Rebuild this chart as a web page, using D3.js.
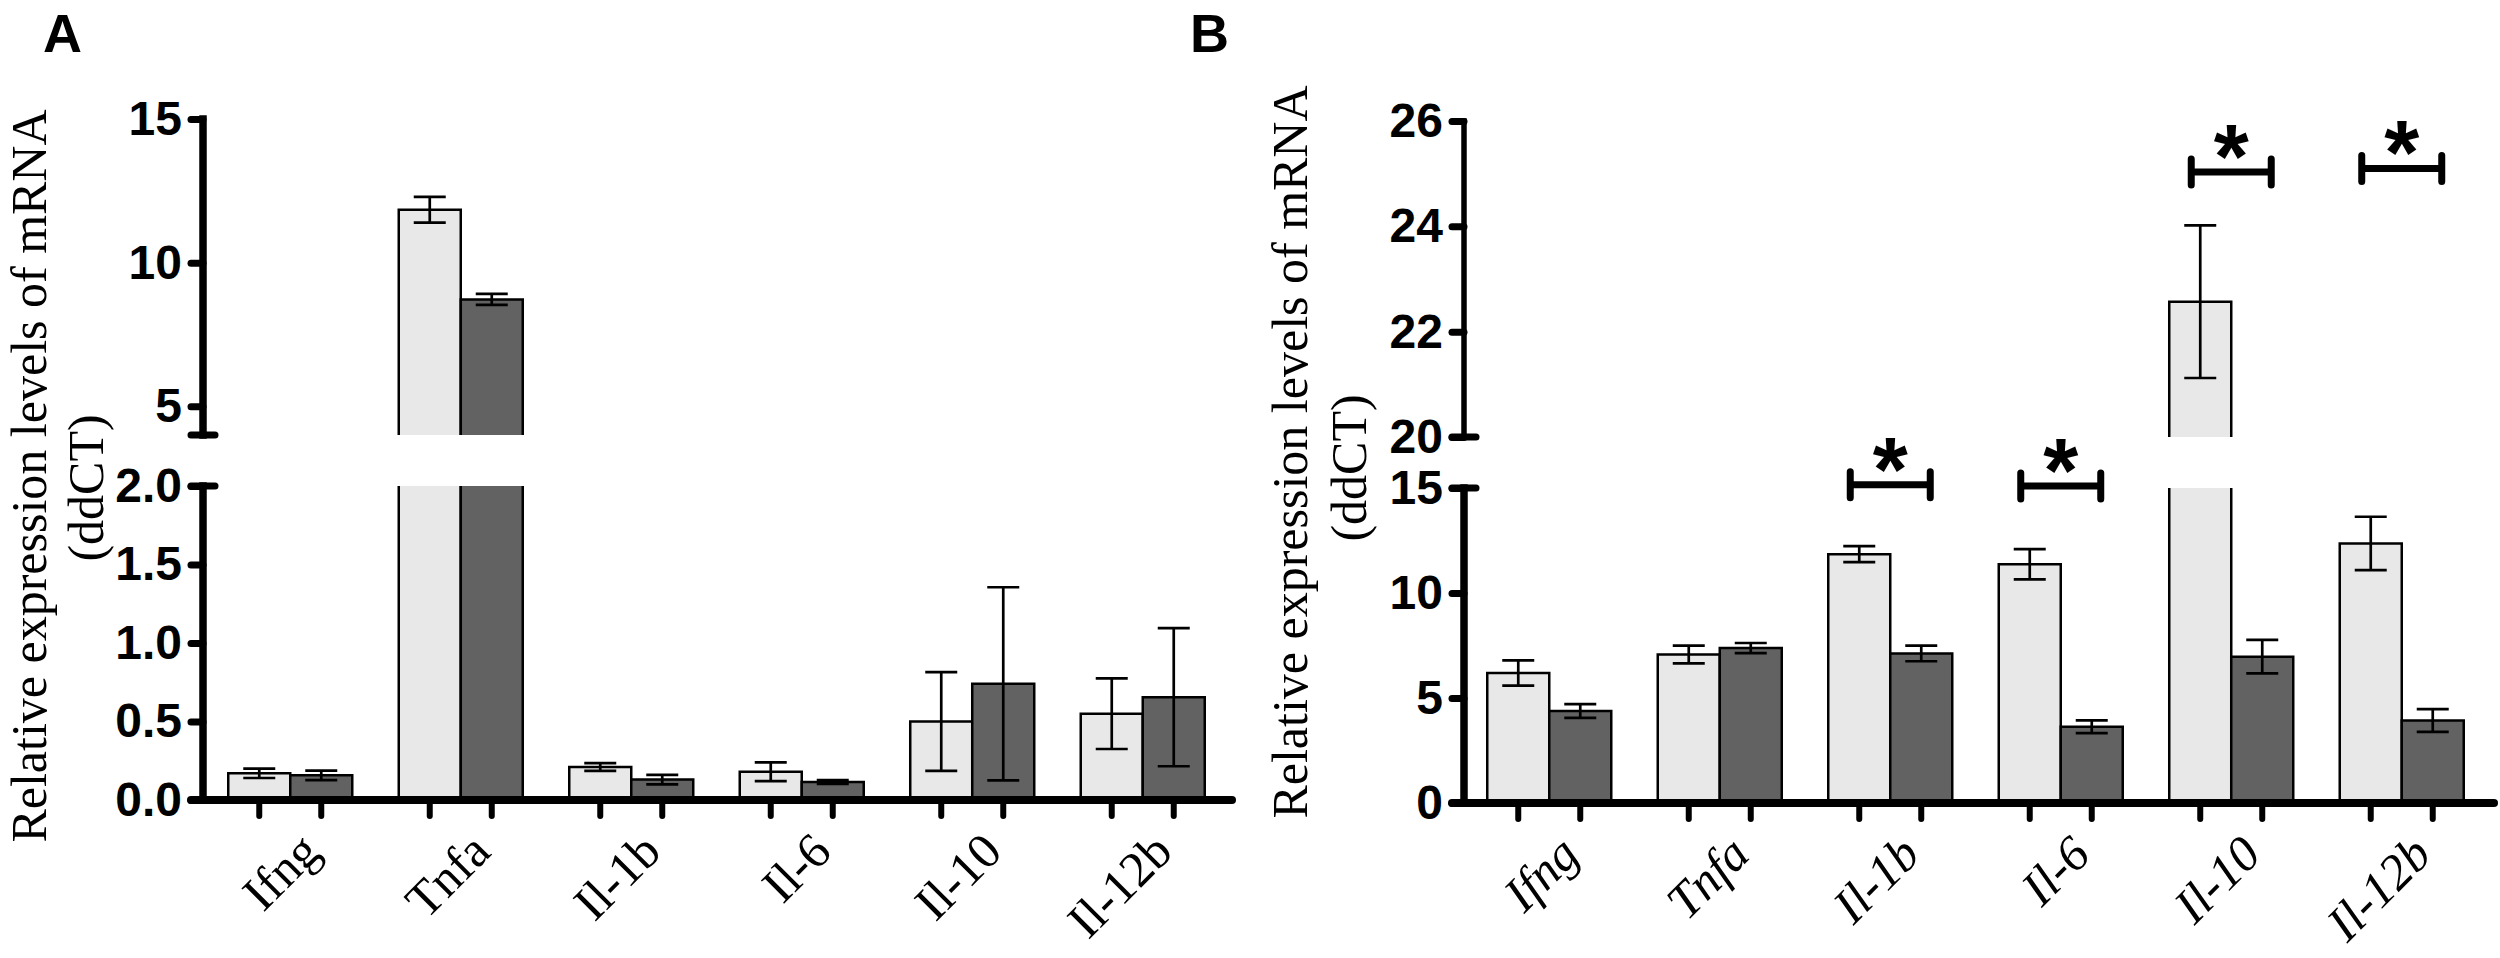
<!DOCTYPE html>
<html lang="en">
<head>
<meta charset="UTF-8">
<title>Relative expression levels of mRNA</title>
<script src="https://cdn.jsdelivr.net/npm/d3@7"></script>
<style>
  body { margin: 0; background: #fff; }
  .tick text { font-family: "Liberation Sans", Arial, sans-serif; font-weight: bold; font-size: 48px; fill: #000; }
  .ytitle { font-family: "Liberation Serif", "Times New Roman", serif; font-size: 50px; fill: #000; }
  .xlab { font-family: "Liberation Serif", "Times New Roman", serif; font-size: 50px; fill: #000; }
  .panel-label { font-family: "Liberation Sans", Arial, sans-serif; font-weight: bold; font-size: 54px; }
  .star { font-family: "Liberation Sans", Arial, sans-serif; font-weight: bold; font-size: 90px; }
</style>
</head>
<body>
<svg id="chart" width="2500" height="958"></svg>
<script>
// genes on the x axis, two groups per gene
const categories = ["Ifng", "Tnfa", "Il-1b", "Il-6", "Il-10", "Il-12b"];
const groups = ["control", "treated"];

// panel A (ddCT), mean and error for each group
const aControl    = [0.17, 11.84, 0.21, 0.18, 0.50, 0.55];
const aControlErr = [0.03, 0.45, 0.025, 0.06, 0.315, 0.225];
const aTreated    = [0.157, 8.72, 0.13, 0.115, 0.74, 0.655];
const aTreatedErr = [0.03, 0.19, 0.03, 0.012, 0.615, 0.44];

// panel B
const bControl    = [6.19, 7.07, 11.85, 11.37, 22.57, 12.36];
const bControlErr = [0.6, 0.42, 0.38, 0.72, 1.45, 1.27];
const bTreated    = [4.38, 7.38, 7.12, 3.63, 6.97, 3.93];
const bTreatedErr = [0.33, 0.24, 0.37, 0.3, 0.8, 0.54];

// significance marks in panel B
const bSigCats = ["Il-1b", "Il-6", "Il-10", "Il-12b"];
const bSigY    = [15.15, 15.1, 25.03, 25.1];

// axis ticks
const aTicksLow  = [0, 0.5, 1.0, 1.5, 2.0];
const aTicksHigh = [5, 10, 15];
const bTicksLow  = [0, 5, 10, 15];
const bTicksHigh = [20, 22, 24, 26];

const svg = d3.select("#chart");
const lightFill = "#e8e8e8", darkFill = "#626262";

function drawPanel(cfg) {
    const g = svg.append("g");

    const yLow = d3.scaleLinear().domain(cfg.lowDomain).range(cfg.lowRange);
    const yHigh = d3.scaleLinear().domain(cfg.highDomain).range(cfg.highRange);
    // values between the two segments stay on the lower scale
    const y = v => v >= cfg.highDomain[0] ? yHigh(v) : yLow(Math.max(v, 0));

    const x0 = d3.scaleBand().domain(categories)
        .range([cfg.x, cfg.x + categories.length * cfg.step])
        .paddingInner(0.2727).paddingOuter(0.1364);
    const x1 = d3.scaleBand().domain(groups).range([0, x0.bandwidth()]);
    const base = cfg.lowRange[0];
    const ax = cfg.axisX;

    const rows = [];
    categories.forEach((c, i) => {
        groups.forEach((s, j) => {
            rows.push({cat: c, grp: s, mean: cfg.means[j][i], err: cfg.errs[j][i]});
        });
    });

    // bars, split where the axis is broken
    rows.forEach(d => {
        const bx = x0(d.cat) + x1(d.grp), w = x1.bandwidth();
        const fill = d.grp === "control" ? lightFill : darkFill;
        const pieces = d.mean > cfg.lowDomain[1]
            ? [{yb: base, yt: yLow(cfg.lowDomain[1]), top: false},
               {yb: yHigh(cfg.highDomain[0]), yt: yHigh(d.mean), top: true}]
            : [{yb: base, yt: yLow(d.mean), top: true}];
        pieces.forEach(p => {
            g.append("rect")
                .attr("x", bx).attr("y", p.yt)
                .attr("width", w).attr("height", p.yb - p.yt)
                .attr("fill", fill);
            const path = p.top
                ? `M${bx},${p.yb}V${p.yt}H${bx + w}V${p.yb}`
                : `M${bx},${p.yb}V${p.yt}M${bx + w},${p.yt}V${p.yb}`;
            g.append("path").attr("d", path)
                .attr("fill", "none").attr("stroke", "#000").attr("stroke-width", 2.5);
        });
    });

    // error bars
    const capW = 32;
    const eb = g.selectAll(".err").data(rows).join("g").attr("class", "err")
        .attr("transform", d => `translate(${x0(d.cat) + x1(d.grp) + x1.bandwidth() / 2},0)`)
        .attr("stroke", "#000").attr("stroke-width", 2.7);
    eb.append("line").attr("y1", d => y(d.mean + d.err)).attr("y2", d => y(d.mean - d.err));
    eb.append("line").attr("x1", -capW / 2).attr("x2", capW / 2)
        .attr("y1", d => y(d.mean + d.err)).attr("y2", d => y(d.mean + d.err));
    eb.append("line").attr("x1", -capW / 2).attr("x2", capW / 2)
        .attr("y1", d => y(d.mean - d.err)).attr("y2", d => y(d.mean - d.err));

    // y axis, two segments
    [[yLow, cfg.lowTicks, cfg.lowW], [yHigh, cfg.highTicks, cfg.highW]].forEach(([sc, ticks, sw]) => {
        const ag = g.append("g").attr("transform", `translate(${ax},0)`)
            .call(d3.axisLeft(sc).tickValues(ticks).tickSize(12).tickPadding(9).tickFormat(cfg.fmt));
        ag.select(".domain").remove();
        ag.selectAll(".tick line").attr("stroke", "#000").attr("stroke-width", 7).attr("stroke-linecap", "round");
        ag.append("line").attr("y1", sc.range()[0]).attr("y2", sc.range()[1])
            .attr("stroke", "#000").attr("stroke-width", sw).attr("stroke-linecap", "square");
    });
    // caps at the break
    [yLow.range()[1], yHigh.range()[0]].forEach(yy => {
        g.append("line").attr("x1", ax - 12).attr("x2", ax + 12).attr("y1", yy).attr("y2", yy)
            .attr("stroke", "#000").attr("stroke-width", 7).attr("stroke-linecap", "round");
    });

    // x axis
    g.append("line").attr("x1", ax - 12).attr("x2", cfg.xEnd).attr("y1", base).attr("y2", base)
        .attr("stroke", "#000").attr("stroke-width", 8).attr("stroke-linecap", "round");
    g.selectAll(".xtick").data(rows).join("line").attr("class", "xtick")
        .attr("x1", d => x0(d.cat) + x1(d.grp) + x1.bandwidth() / 2)
        .attr("x2", d => x0(d.cat) + x1(d.grp) + x1.bandwidth() / 2)
        .attr("y1", base).attr("y2", base + 16)
        .attr("stroke", "#000").attr("stroke-width", 6).attr("stroke-linecap", "round");
    g.selectAll(".xlab").data(categories).join("text").attr("class", "xlab")
        .attr("transform", d => `translate(${x0(d) + x0.bandwidth() / 2 + 32},${base + 54}) rotate(-45)`)
        .attr("text-anchor", "end")
        .style("font-style", cfg.italic ? "italic" : "normal")
        .text(d => d);

    // axis title
    g.append("text").attr("class", "ytitle")
        .attr("transform", `translate(${cfg.title1[0]},${cfg.title1[1]}) rotate(-90)`)
        .attr("text-anchor", "middle").text("Relative expression levels of mRNA");
    g.append("text").attr("class", "ytitle")
        .attr("transform", `translate(${cfg.title2[0]},${cfg.title2[1]}) rotate(-90)`)
        .attr("text-anchor", "middle").text("(ddCT)");

    g.append("text").attr("class", "panel-label")
        .attr("x", cfg.label[0]).attr("y", cfg.label[1]).text(cfg.name);

    // significance brackets
    if (cfg.sigCats) {
        const half = 40, tip = 13;
        cfg.sigCats.forEach((c, i) => {
            const cx = x0(c) + x0.bandwidth() / 2, yy = y(cfg.sigY[i]);
            g.append("path")
                .attr("d", `M${cx - half},${yy - tip}V${yy + tip}M${cx - half},${yy}H${cx + half}M${cx + half},${yy - tip}V${yy + tip}`)
                .attr("fill", "none").attr("stroke", "#000").attr("stroke-width", 7).attr("stroke-linecap", "round");
            g.append("text").attr("class", "star")
                .attr("x", cx).attr("y", yy + 16).attr("text-anchor", "middle").text("*");
        });
    }
}

drawPanel({
    name: "A", label: [43, 52],
    axisX: 203, x: 205, step: 170.5, xEnd: 1232,
    lowDomain: [0, 2], lowRange: [800, 486], lowTicks: aTicksLow, lowW: 7.5,
    highDomain: [4, 15], highRange: [435, 119], highTicks: aTicksHigh, highW: 7.5,
    fmt: d => d < 3 ? d3.format(".1f")(d) : d3.format("d")(d),
    means: [aControl, aTreated], errs: [aControlErr, aTreatedErr],
    italic: false,
    title1: [46, 476], title2: [103, 488]
});

drawPanel({
    name: "B", label: [1190, 52],
    axisX: 1464, x: 1464, step: 170.5, xEnd: 2494,
    lowDomain: [0, 15], lowRange: [803, 488], lowTicks: bTicksLow, lowW: 7.5,
    highDomain: [20, 26], highRange: [437, 121], highTicks: bTicksHigh, highW: 5.5,
    fmt: d3.format("d"),
    means: [bControl, bTreated], errs: [bControlErr, bTreatedErr],
    italic: true,
    title1: [1307, 452], title2: [1366, 468],
    sigCats: bSigCats, sigY: bSigY
});
</script>
</body>
</html>
